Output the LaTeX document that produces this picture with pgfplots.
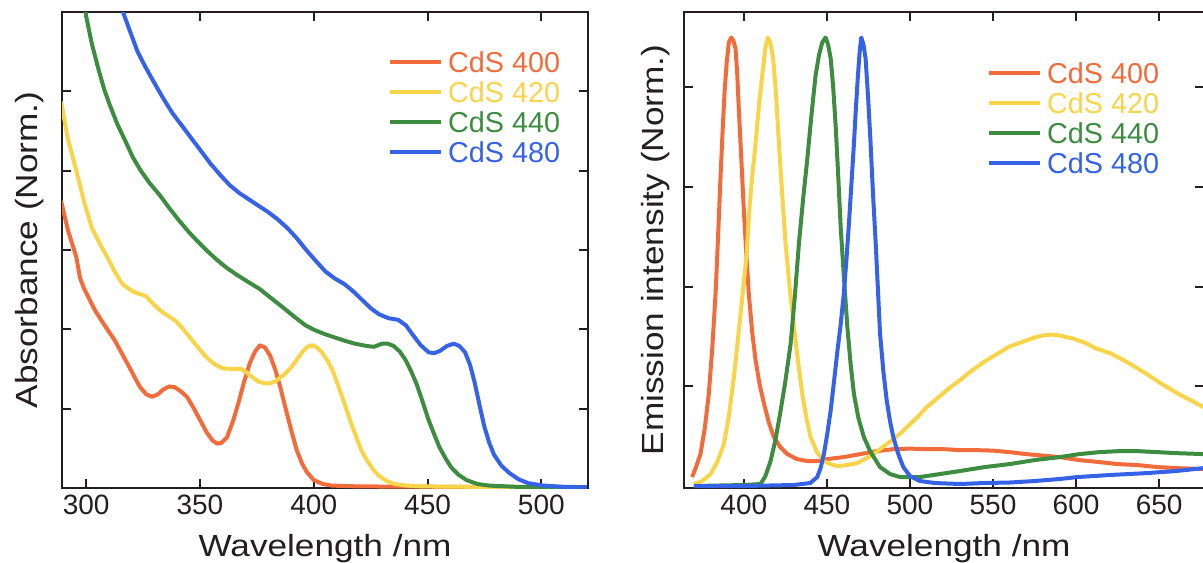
\documentclass[border=0pt]{standalone}
\usepackage{fontspec}
\setmainfont{Liberation Sans}
\newfontfamily\labfont[FakeStretch=1.15]{Liberation Sans}
\usepackage{pgfplots}
\pgfplotsset{compat=1.18}
\definecolor{cr}{HTML}{F26B3A}
\definecolor{cy}{HTML}{F7D448}
\definecolor{cg}{HTML}{3D8C40}
\definecolor{cb}{HTML}{3562E6}
\definecolor{ink}{HTML}{231F20}
\pgfplotsset{
  myax/.style={
    scale only axis, height=238pt,
    axis line style={ink, line width=1pt},
    tick align=inside, major tick length=4.5pt,
    every tick/.style={ink, line width=1pt},
    yticklabels={},
    /pgf/number format/assume math mode=true,
    ticklabel style={font=\fontsize{14}{16}\selectfont, text=ink},
    xlabel style={font=\labfont\fontsize{15.3}{18}\selectfont, text=ink, anchor=base,
      at={(axis description cs:0.5,-0.1429)}},
    ylabel style={font=\labfont\fontsize{15.3}{18}\selectfont, text=ink, anchor=base},
    xlabel={Wavelength /nm},
    every axis plot/.append style={line width=2pt, line join=round, no markers},
    legend style={draw=none, fill=none, inner sep=0pt, outer sep=0pt,
      font=\fontsize{14.4}{16}\selectfont, row sep=2.5pt, anchor=north west,
      nodes={inner sep=1pt, text height=10.5pt, text depth=0pt}},
    legend cell align=left,
    legend image code/.code={\draw[##1, line width=2pt] (0pt,0pt) -- (25.5pt,0pt); \path (27pt,0pt);},
  }
}
\begin{document}
\begin{tikzpicture}
\useasboundingbox (0,0) rectangle (601.5pt,281pt);
% ---------------- Absorbance ----------------
\begin{axis}[myax, at={(31pt,37pt)}, anchor=south west, width=263pt,
  xmin=289.4, xmax=520.5, ymin=0, ymax=6,
  xtick={300,350,400,450,500}, ytick={1,2,3,4,5},
  ylabel={Absorbance (Norm.)},
  ylabel style={at={(axis description cs:-0.0475,0.5)}},
  legend style={at={(axis description cs:0.62,0.921)}}]
\addplot[cr] coordinates {
(289,3.62)(292,3.25)(295.7,2.91)(297.3,2.65)(299,2.52)(302.5,2.32)(303.9,2.24)(307,2.10)
(310.5,1.95)(312.6,1.86)(316.2,1.67)(318.5,1.55)(320.5,1.44)(323.7,1.27)(326.5,1.18)(329,1.15)
(331.5,1.18)(333.8,1.24)(336.5,1.28)(339,1.27)(341.5,1.22)(344.3,1.15)(347,1.02)(350,0.86)
(353,0.70)(355.5,0.60)(357.5,0.56)(359.5,0.57)(361.9,0.64)(364.5,0.84)(367,1.08)(369.5,1.35)
(372,1.58)(374.2,1.72)(376.4,1.80)(378.6,1.77)(380.8,1.67)(383,1.50)(385.2,1.28)(387.5,1.02)
(390,0.74)(392.5,0.48)(395,0.30)(397,0.20)(400,0.10)(404,0.05)(408,0.03)(420,0.02)(460,0.015)(520,0.01)};
\addlegendentry{\textcolor{cr}{CdS 400}}
\addplot[cy] coordinates {
(289,4.87)(292,4.40)(295.7,4.00)(299,3.62)(302.5,3.28)(306,3.08)(309.3,2.91)(312.5,2.73)
(316,2.57)(320.3,2.48)(323,2.45)(326.2,2.42)(329.5,2.32)(332.9,2.23)(336,2.17)(339.6,2.10)
(343,1.99)(346.4,1.87)(349.8,1.75)(353.1,1.64)(356.5,1.56)(359.8,1.51)(364,1.50)(368.2,1.50)
(370.8,1.45)(373.3,1.39)(375.8,1.34)(378.3,1.32)(381,1.32)(383.4,1.35)(387,1.43)(390.1,1.52)
(392.6,1.62)(395.1,1.72)(397.3,1.78)(399.4,1.80)(401.5,1.77)(403.6,1.71)(406.2,1.60)(408.6,1.46)
(411,1.27)(413.7,1.05)(416,0.85)(418.7,0.64)(421,0.47)(423.8,0.33)(426.5,0.22)(428.8,0.15)
(432,0.09)(435.5,0.05)(441,0.03)(447.3,0.02)(470,0.015)(520,0.01)};
\addlegendentry{\textcolor{cy}{CdS 420}}
\addplot[cg] coordinates {
(298.5,6.2)(300,5.95)(302.5,5.60)(305.5,5.27)(308,5.02)(310.5,4.82)(313.8,4.58)(317.3,4.37)
(320.5,4.17)(324,4.00)(328,3.84)(332.4,3.69)(336.5,3.53)(340.9,3.37)(345,3.23)(349.3,3.10)
(353.5,2.98)(357.7,2.87)(362,2.77)(366.1,2.69)(371,2.60)(376.2,2.51)(381,2.40)(386.3,2.28)
(391,2.17)(396.4,2.05)(400.5,1.99)(404.8,1.94)(409,1.90)(413.2,1.86)(418,1.82)(423.3,1.79)
(426.5,1.78)(430.1,1.82)(432.5,1.82)(435.1,1.79)(437.8,1.72)(440.2,1.62)(442.5,1.49)(445.2,1.31)
(447.7,1.10)(450.3,0.87)(453,0.67)(455.3,0.51)(458,0.37)(460.4,0.26)(463.5,0.17)(467.1,0.10)
(472,0.05)(477.2,0.03)(489,0.015)(520,0.01)};
\addlegendentry{\textcolor{cg}{CdS 440}}
\addplot[cb] coordinates {
(315,6.1)(316.2,6.0)(319.5,5.74)(322.6,5.50)(326,5.31)(329.3,5.14)(333.5,4.93)(337.8,4.73)
(342,4.57)(346.2,4.41)(350.4,4.25)(354.6,4.09)(358.8,3.95)(363,3.82)(367.2,3.72)(371.4,3.64)
(375.6,3.56)(379.9,3.48)(384,3.39)(388.3,3.28)(392.5,3.15)(396.7,3.00)(401,2.86)(405.1,2.73)
(409.3,2.64)(413.5,2.57)(417.7,2.47)(422,2.35)(425.3,2.26)(428.7,2.19)(432.9,2.14)(437.1,2.12)
(440.5,2.05)(443.8,1.92)(447,1.80)(450.5,1.71)(453,1.70)(455.6,1.73)(458.5,1.79)(461.5,1.82)
(464,1.79)(466.5,1.71)(468.7,1.55)(470.7,1.33)(472.8,1.05)(474.9,0.78)(477,0.58)(479.2,0.42)
(482.5,0.28)(485.9,0.19)(490,0.11)(494.3,0.06)(501,0.03)(510,0.015)(520,0.01)};
\addlegendentry{\textcolor{cb}{CdS 480}}
\end{axis}
% ---------------- Emission ----------------
\begin{axis}[myax, at={(342pt,37pt)}, anchor=south west, width=260pt,
  xmin=364, xmax=677, ymin=-0.02, ymax=4.756,
  xtick={400,450,500,550,600,650}, ytick={1,2,3,4},
  ylabel={Emission intensity (Norm.)},
  ylabel style={at={(axis description cs:-0.0385,0.5)}},
  legend style={at={(axis description cs:0.583,0.898)}}]
\addplot[cr] coordinates {
(368.9,0.09)(371,0.18)(373.9,0.32)(376.5,0.58)(378.9,0.92)(381,1.38)(383,1.93)(384.5,2.50)
(386,3.11)(387.2,3.55)(388.4,3.95)(389.7,4.25)(391,4.45)(392.4,4.50)(393.7,4.47)(395,4.39)
(396,4.15)(397,3.78)(398.5,3.28)(400,2.77)(401.5,2.33)(403,1.93)(405,1.55)(407.1,1.26)
(409.5,1.02)(412.1,0.83)(415,0.64)(418.1,0.49)(422,0.39)(426.2,0.32)(432,0.27)(438.2,0.25)
(444,0.25)(450.2,0.27)(460,0.29)(470,0.32)(480,0.35)(490,0.37)(500,0.375)(510,0.37)(520,0.37)
(530,0.36)(540,0.36)(550,0.355)(560,0.34)(570,0.32)(580,0.305)(590,0.29)(602,0.26)(614,0.24)
(625,0.22)(637,0.21)(649,0.19)(660,0.18)(677,0.17)};
\addlegendentry{\textcolor{cr}{CdS 400}}
\addplot[cy] coordinates {
(369.9,0.02)(375,0.05)(380,0.12)(384,0.24)(388,0.42)(391,0.70)(394,1.09)(396.5,1.48)
(399,1.88)(401.7,2.32)(403.1,2.72)(405,3.10)(407.1,3.44)(409,3.80)(411.1,4.12)(413,4.40)
(414.5,4.50)(416,4.45)(417.7,4.29)(419.5,3.90)(421.1,3.44)(423,2.95)(425.1,2.44)(427.5,2.00)
(430.2,1.60)(432.7,1.24)(435.2,0.92)(437.7,0.68)(440.2,0.49)(444,0.34)(448.2,0.25)(452,0.22)
(456.3,0.20)(462,0.21)(468.3,0.23)(474,0.28)(478,0.32)(482,0.37)(486,0.42)(490,0.47)(495,0.54)
(500,0.62)(505,0.70)(510,0.79)(515,0.86)(520,0.93)(525,1.00)(530,1.06)(535,1.13)(540,1.19)
(545,1.25)(550,1.30)(555,1.35)(560,1.40)(565,1.43)(570,1.46)(575,1.49)(580,1.51)(585,1.52)
(590,1.51)(598,1.48)(605,1.44)(612,1.38)(621,1.33)(631,1.24)(641,1.14)(651,1.03)(661,0.93)
(669,0.86)(677,0.79)};
\addlegendentry{\textcolor{cy}{CdS 420}}
\addplot[cg] coordinates {
(369.9,0.00)(400,0.01)(410.1,0.02)(413,0.10)(416.1,0.25)(419,0.46)(422.1,0.75)(425,1.05)
(428.2,1.43)(430.7,1.90)(433.2,2.44)(435.7,2.88)(438.2,3.28)(440.7,3.72)(443.2,4.12)(445.2,4.32)
(447.2,4.45)(449.2,4.50)(450.7,4.43)(452.3,4.29)(453.8,4.00)(455.3,3.61)(456.8,3.12)(458.3,2.60)
(460.3,2.08)(462.3,1.60)(464.3,1.22)(466.3,0.92)(469,0.68)(472.3,0.49)(476,0.35)(482,0.19)
(488,0.12)(494,0.09)(506,0.09)(518,0.12)(530,0.15)(545,0.19)(560,0.22)(575,0.26)(590,0.29)
(602,0.32)(614,0.34)(626,0.35)(637,0.35)(649,0.34)(660,0.33)(677,0.32)};
\addlegendentry{\textcolor{cg}{CdS 440}}
\addplot[cb] coordinates {
(369.9,0.00)(400,0.00)(430,0.01)(440,0.03)(444.2,0.09)(446.2,0.18)(448.2,0.32)(450.2,0.52)
(452.3,0.76)(454.3,1.05)(456.3,1.35)(458.3,1.62)(460.3,1.95)(461.8,2.28)(463.3,2.64)(464.8,3.04)
(466.3,3.44)(467.5,3.80)(468.7,4.12)(469.7,4.35)(470.7,4.50)(472,4.43)(473.3,4.29)(474.8,3.90)
(476.3,3.44)(477.8,2.92)(479.4,2.43)(480.7,1.98)(482,1.53)(484,1.15)(486,0.86)(488,0.65)
(490,0.49)(493,0.32)(496,0.19)(500,0.10)(506,0.05)(515,0.03)(530,0.02)(545,0.03)(560,0.035)
(575,0.05)(590,0.07)(601,0.09)(620,0.11)(643,0.13)(660,0.15)(677,0.18)};
\addlegendentry{\textcolor{cb}{CdS 480}}
\end{axis}
\end{tikzpicture}
\end{document}
